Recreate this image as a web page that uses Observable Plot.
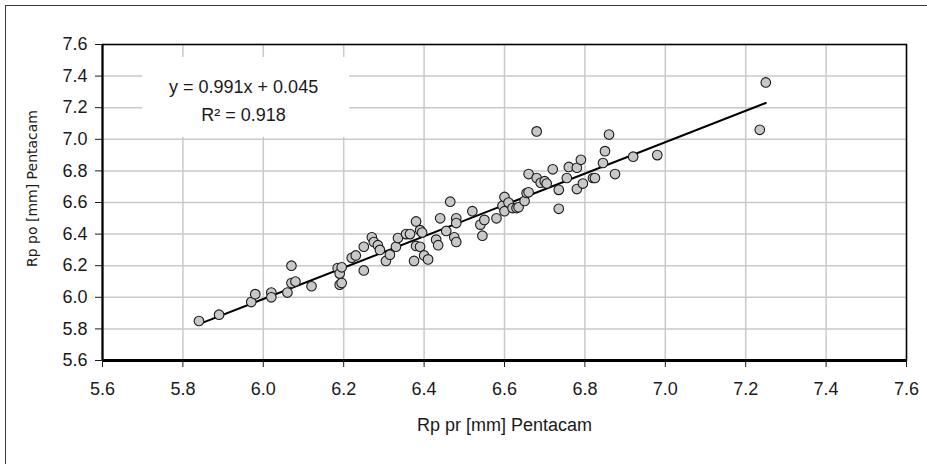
<!DOCTYPE html>
<html>
<head>
<meta charset="utf-8">
<script src="https://cdn.jsdelivr.net/npm/d3@7"></script>
<script src="https://cdn.jsdelivr.net/npm/@observablehq/plot@0.6"></script>
<style>
  html, body { margin: 0; padding: 0; background: #fff; overflow: hidden; }
  #wrap { position: relative; width: 927px; height: 464px; overflow: hidden; }
  #border { position: absolute; left: 5px; top: 5px; width: 1000px; height: 1000px;
            border: 1.5px solid #3a3a3a; pointer-events: none; }
</style>
</head>
<body>
<div id="wrap"><div id="border"></div></div>
<script>
// Data
const xPre = [5.84,5.89,5.97,5.98,6.02,6.02,6.06,6.07,6.08,6.07,6.12,6.185,6.19,6.195,6.19,6.195,6.22,6.23,6.25,6.25,
  6.27,6.275,6.285,6.29,6.305,6.315,6.33,6.335,6.355,6.365,6.375,6.38,6.38,6.39,6.39,6.395,6.40,6.41,6.43,6.435,
  6.44,6.455,6.465,6.475,6.48,6.48,6.48,6.52,6.54,6.545,6.55,6.58,6.595,6.60,6.60,6.61,6.62,6.63,6.635,6.65,
  6.655,6.66,6.66,6.68,6.68,6.69,6.70,6.705,6.72,6.735,6.735,6.755,6.76,6.78,6.79,6.78,6.795,6.82,6.825,6.845,
  6.85,6.86,6.875,6.92,6.98,7.235,7.25];
const yPost = [5.85,5.89,5.97,6.02,6.03,6.00,6.03,6.09,6.10,6.20,6.07,6.185,6.15,6.19,6.08,6.09,6.25,6.265,6.17,6.32,
  6.38,6.35,6.33,6.30,6.23,6.27,6.32,6.375,6.40,6.40,6.23,6.48,6.325,6.32,6.425,6.41,6.265,6.24,6.365,6.33,
  6.50,6.42,6.605,6.38,6.35,6.50,6.47,6.545,6.46,6.39,6.49,6.50,6.58,6.635,6.545,6.60,6.565,6.565,6.57,6.61,
  6.66,6.665,6.78,7.05,6.755,6.725,6.735,6.72,6.81,6.68,6.56,6.755,6.825,6.82,6.87,6.685,6.72,6.755,6.755,6.85,
  6.925,7.03,6.78,6.89,6.90,7.06,7.36];
const fitX = [5.84, 7.25];
const fitY = [5.83, 7.23];
const ticks = [5.6,5.8,6.0,6.2,6.4,6.6,6.8,7.0,7.2,7.4,7.6];
const xTitle = "Rp pr [mm] Pentacam";
const yTitle = "Rp po [mm] Pentacam";
const eqLines = ["y = 0.991x + 0.045", "R\u00B2 = 0.918"];
const eqBox = {x1: 5.70, x2: 6.215, y1: 7.012, y2: 7.518};
const eqPos = {x: 5.951, y1: 7.328, y2: 7.151};

const points = xPre.map((x, i) => ({x, y: yPost[i]}));
const fit = fitX.map((x, i) => ({x, y: fitY[i]}));
const tickFont = "'Liberation Sans', Arial, sans-serif";

const chart = Plot.plot({
  width: 927,
  height: 464,
  marginLeft: 102,
  marginRight: 21,
  marginTop: 44,
  marginBottom: 104,
  style: {fontFamily: tickFont, fontSize: "18px", color: "#1a1a1a", background: "white"},
  x: {domain: [5.6, 7.6], ticks, tickFormat: d3.format(".1f"), tickSize: 7, tickPadding: 15, label: null},
  y: {domain: [5.6, 7.6], ticks, tickFormat: d3.format(".1f"), tickSize: 7, tickPadding: 8, label: null},
  marks: [
    Plot.gridX(ticks, {stroke: "#c9c9c9", strokeOpacity: 1, strokeWidth: 1.5}),
    Plot.gridY(ticks, {stroke: "#c9c9c9", strokeOpacity: 1, strokeWidth: 1.5}),
    Plot.rect([eqBox], {x1: "x1", x2: "x2", y1: "y1", y2: "y2", fill: "white"}),
    Plot.frame({stroke: "black", strokeWidth: 1.5}),
    Plot.ruleX([5.6], {stroke: "black", strokeWidth: 2}),
    Plot.ruleY([5.6], {stroke: "black", strokeWidth: 3}),
    Plot.axisX({ticks, tickFormat: d3.format(".1f"), tickSize: 7, tickPadding: 15, label: null, fontSize: 18}),
    Plot.axisY({ticks, tickFormat: d3.format(".1f"), tickSize: 7, tickPadding: 8, label: null, fontSize: 18}),
    Plot.line(fit, {x: "x", y: "y", stroke: "black", strokeWidth: 2}),
    Plot.dot(points, {x: "x", y: "y", r: 4.8, fill: "#c8c8c8", stroke: "#1a1a1a", strokeWidth: 1.1}),
    Plot.text([eqLines[0]], {x: () => eqPos.x, y: () => eqPos.y1, text: d => d, fontSize: 18, fill: "#1a1a1a"}),
    Plot.text([eqLines[1]], {x: () => eqPos.x, y: () => eqPos.y2, text: d => d, fontSize: 18, fill: "#1a1a1a"}),
    Plot.text([xTitle], {frameAnchor: "bottom", dy: 70, text: d => d, fontSize: 18, fill: "#1a1a1a"}),
    Plot.text([yTitle], {frameAnchor: "left", textAnchor: "middle", dx: -70, dy: -14, rotate: -90, text: d => d,
      fontSize: 14, fontFamily: "'DejaVu Sans', sans-serif", fill: "#1a1a1a"})
  ]
});
document.getElementById("wrap").prepend(chart);
</script>
</body>
</html>
